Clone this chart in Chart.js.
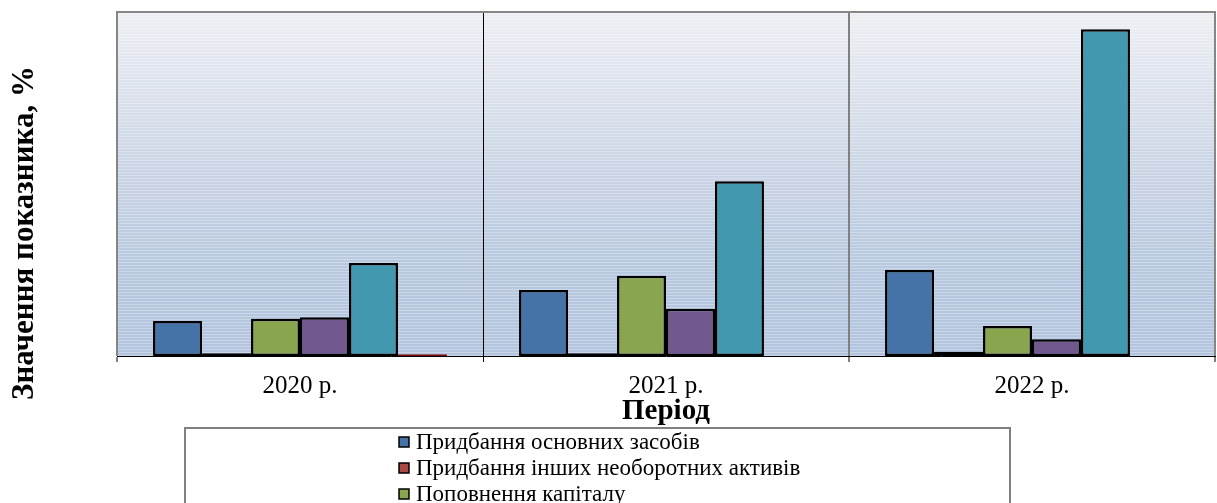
<!DOCTYPE html>
<html lang="uk">
<head>
<meta charset="utf-8">
<script src="https://cdn.jsdelivr.net/npm/chart.js@4/dist/chart.umd.min.js"></script>
<style>
  html, body { margin: 0; padding: 0; background: #fff; overflow: hidden; }
  #wrap { width: 1217px; height: 503px; }
</style>
</head>
<body>
<div id="wrap"><canvas id="c" width="1217" height="503"></canvas></div>
<script>
// Periods on the x axis
const categories = ['2020 р.', '2021 р.', '2022 р.'];

// Series labels
const seriesNames = [
  'Придбання основних засобів',
  'Придбання інших необоротних активів',
  'Поповнення капіталу',
  'Погашення кредитів',
  'Фінансові інвестиції',
  'Інші напрями'
];

// Values, %
const fixedAssets      = [10.2, 19.2, 25.0];
const otherNonCurrent  = [0.8, 0.8, 1.2];
const capitalTopUp     = [10.8, 23.3, 8.7];
const loanRepayment    = [11.3, 13.7, 4.9];
const finInvestments   = [27.0, 50.8, 95.0];
const otherUses        = [0.5, 0, 0];

const seriesValues = [fixedAssets, otherNonCurrent, capitalTopUp, loanRepayment, finInvestments, otherUses];
const fills   = ['#4572A7', '#AA4643', '#89A54E', '#71588F', '#4198AF', '#7A0A0A'];
const borders = ['#000', '#000', '#000', '#000', '#000', '#7A0A0A'];

const SERIF = '"Liberation Serif", "Times New Roman", serif';

// Plot background: vertical gradient with fine horizontal stripes
const plotBackground = {
  id: 'plotBackground',
  beforeDraw(chart) {
    const { ctx, chartArea: a } = chart;
    ctx.save();
    ctx.fillStyle = '#fff';
    ctx.fillRect(0, 0, chart.width, chart.height);
    const g = ctx.createLinearGradient(0, a.top, 0, a.bottom);
    g.addColorStop(0, '#EDEFF3');
    g.addColorStop(0.45, '#CAD5E5');
    g.addColorStop(0.75, '#B7C8DF');
    g.addColorStop(1, '#B3C5DE');
    ctx.fillStyle = g;
    ctx.fillRect(a.left, a.top, a.right - a.left, a.bottom - a.top);
    ctx.fillStyle = 'rgba(255,255,255,0.3)';
    for (let y = a.top + 1; y < a.bottom; y += 3) {
      ctx.fillRect(a.left, y, a.right - a.left, 1);
    }
    ctx.restore();
  },
  afterDraw(chart) {
    const { ctx, chartArea: a } = chart;
    ctx.save();
    // frame on top, left and right
    ctx.strokeStyle = '#868686';
    ctx.lineWidth = 2;
    ctx.beginPath();
    ctx.moveTo(a.left, a.bottom);
    ctx.lineTo(a.left, a.top);
    ctx.lineTo(a.right, a.top);
    ctx.lineTo(a.right, a.bottom);
    ctx.stroke();

    // vertical axis title
    ctx.translate(25, 233);
    ctx.rotate(-Math.PI / 2);
    ctx.fillStyle = '#000';
    ctx.font = 'bold 31px ' + SERIF;
    ctx.textAlign = 'center';
    ctx.textBaseline = 'middle';
    ctx.fillText('Значення показника, %', 0, 0);
    ctx.restore();

    // legend box, one entry per row
    ctx.save();
    ctx.strokeStyle = '#808080';
    ctx.lineWidth = 2;
    ctx.strokeRect(185, 428, 825, 200);
    ctx.font = '23px ' + SERIF;
    ctx.textAlign = 'left';
    ctx.textBaseline = 'middle';
    chart.data.datasets.forEach((ds, i) => {
      const y = 442 + i * 26;
      ctx.fillStyle = ds.backgroundColor;
      ctx.fillRect(399, y - 5, 10, 10);
      ctx.strokeStyle = '#000';
      ctx.lineWidth = 1.5;
      ctx.strokeRect(399, y - 5, 10, 10);
      ctx.fillStyle = '#000';
      ctx.fillText(ds.label, 416, y + 1);
    });
    ctx.restore();
  }
};

new Chart(document.getElementById('c'), {
  type: 'bar',
  data: {
    labels: categories,
    datasets: seriesValues.map((vals, i) => ({
      label: seriesNames[i],
      data: vals,
      backgroundColor: fills[i],
      borderColor: borders[i],
      borderWidth: 2.5,
      borderSkipped: false,
      categoryPercentage: 0.803,
      barPercentage: 1.0
    }))
  },
  options: {
    responsive: false,
    animation: false,
    layout: { padding: { left: 117, right: 2, top: 12, bottom: 73 } },
    plugins: {
      legend: { display: false },
      tooltip: { enabled: false }
    },
    scales: {
      y: {
        display: false,
        min: 0,
        max: 100
      },
      x: {
        afterFit(scale) { scale.height = 74; },
        border: { display: true, color: '#000', width: 1 },
        grid: {
          offset: true,
          drawOnChartArea: true,
          drawTicks: true,
          tickLength: 6,
          color: (c) => (c.index === 1 ? '#000' : '#808080'),
          lineWidth: (c) => (c.index === 1 ? 1 : 2)
        },
        ticks: {
          color: '#000',
          padding: 9,
          font: { family: SERIF, size: 25 }
        },
        title: {
          display: true,
          text: 'Період',
          color: '#000',
          padding: { top: 0, bottom: 1 },
          font: { family: SERIF, size: 29, weight: 'bold' }
        }
      }
    }
  },
  plugins: [plotBackground]
});
</script>
</body>
</html>
